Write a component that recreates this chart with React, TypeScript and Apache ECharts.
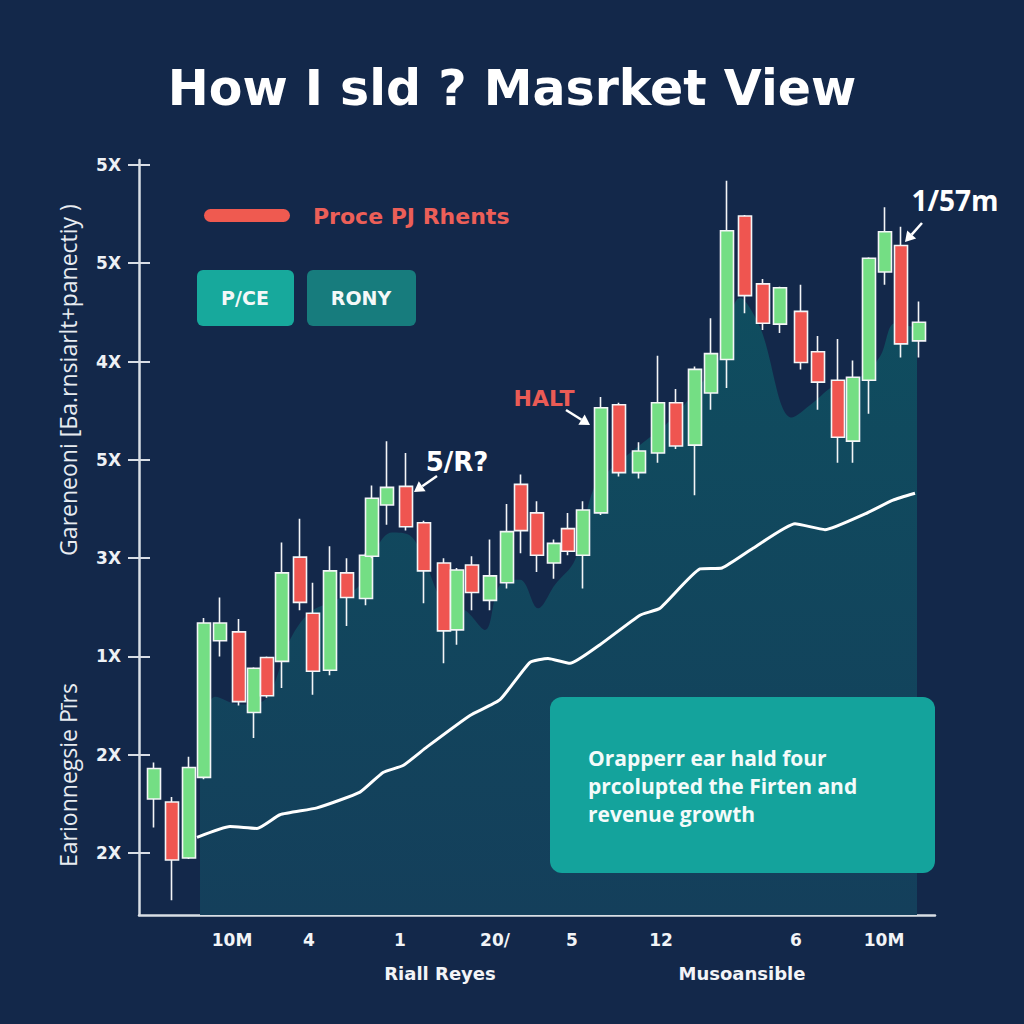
import React, { useEffect, useRef } from "react";
import * as echarts from "echarts";

const titleText = "How I sld ? Masrket View";
const yTitleTop = "Gareneoni [Ба.rnsiarlt+panectiy )";
const yTitleBottom = "Earionnegsie Pīrs";
const xTitleLeft = "Riall Reyes";
const xTitleRight = "Musoansible";
const legendText = "Proce PJ Rhents";
const buttonLabels = ["P/CE", "RONY"];
const noteLines = ["Orapperr ear hald four", "prcolupted the Firten and", "revenue growth"];
const annotations = ["HALT", "5/R?", "1/57m"];

const yTickValues = [10, 20, 30, 40, 50, 60, 70, 80];
const yTickLabels = ["2X", "2X", "1X", "3X", "5X", "4X", "5X", "5X"];
const xTickValues = [9.3, 17.0, 26.1, 35.6, 43.3, 52.2, 57.1, 65.7, 74.5];
const xLabelValues = [9.3, 17.0, 26.1, 35.6, 43.3, 52.2, 65.7, 74.5];
const xLabelTexts = ["10M", "4", "1", "20/", "5", "12", "6", "10M"];

// candle sessions (x) and [open, close, low, high]
const candleX = [
  1.5, 3.3, 5.0, 6.5, 8.1, 10.0, 11.5, 12.8, 14.3, 16.1, 17.4, 19.1, 20.8, 22.7, 23.3,
  24.8, 26.7, 28.5, 30.5, 31.8, 33.3, 35.1, 36.8, 38.2, 39.8, 41.5, 42.9, 44.4, 46.2,
  48.0, 50.0, 51.9, 53.7, 55.6, 57.2, 58.8, 60.6, 62.4, 64.1, 66.2, 67.9, 69.9, 71.4,
  73.0, 74.6, 76.2, 78.0,
];
const candleOHLC = [
  [15.5, 18.6, 12.6, 19.2],
  [15.2, 9.3, 5.2, 15.7],
  [9.5, 18.7, 9.4, 19.8],
  [17.7, 33.4, 17.5, 33.9],
  [31.6, 33.4, 30.0, 36.0],
  [32.5, 25.4, 25.0, 33.8],
  [24.3, 28.8, 21.7, 28.9],
  [29.9, 26.0, 25.8, 30.0],
  [29.5, 38.5, 26.8, 41.6],
  [40.1, 35.5, 34.7, 44.0],
  [34.4, 28.5, 26.1, 37.5],
  [28.6, 38.7, 28.1, 41.2],
  [38.5, 36.0, 33.1, 40.0],
  [35.9, 40.3, 35.2, 40.5],
  [40.2, 46.1, 40.0, 47.4],
  [45.4, 47.2, 43.4, 51.9],
  [47.3, 43.2, 42.8, 50.7],
  [43.6, 38.7, 35.4, 43.8],
  [39.5, 32.6, 29.3, 40.0],
  [32.7, 38.8, 31.2, 39.0],
  [39.3, 36.5, 34.7, 40.2],
  [35.7, 38.2, 34.7, 41.9],
  [37.5, 42.7, 36.9, 45.5],
  [47.5, 42.8, 40.5, 48.5],
  [44.6, 40.3, 38.6, 45.8],
  [39.5, 41.5, 37.9, 41.9],
  [43.0, 40.7, 40.3, 44.6],
  [40.3, 44.9, 36.9, 45.8],
  [44.6, 55.3, 44.4, 56.4],
  [55.6, 48.7, 48.3, 55.8],
  [48.7, 50.9, 48.1, 51.8],
  [50.7, 55.8, 49.7, 60.6],
  [55.8, 51.4, 51.1, 57.2],
  [51.5, 59.2, 46.4, 59.5],
  [56.8, 60.8, 55.1, 64.4],
  [60.2, 73.3, 57.3, 78.4],
  [74.8, 66.7, 64.9, 74.9],
  [67.9, 63.9, 63.2, 68.4],
  [63.8, 67.5, 62.9, 67.6],
  [65.1, 59.9, 59.2, 67.8],
  [61.0, 57.9, 55.1, 62.6],
  [58.1, 52.3, 49.7, 62.3],
  [51.9, 58.4, 49.7, 60.1],
  [58.1, 70.5, 54.7, 70.6],
  [69.1, 73.2, 67.8, 75.7],
  [71.8, 61.8, 60.4, 73.7],
  [62.1, 64.0, 60.4, 66.1],
];

// shaded volume-like area
const areaX = [6.1, 7.6, 10.1, 12.6, 15.1, 17.1, 19.6, 22.1, 23.9, 25.3, 27.1, 28.6, 30.6, 32.6, 34.6, 36.1, 38.1, 39.9, 41.6, 43.6, 45.4, 47.1, 50.1, 53.1, 56.1, 58.1, 60.1, 62.1, 65.3, 67.4, 69.6, 72.1, 74.1, 75.6, 77.8];
const areaY = [22.5, 25.9, 25.1, 25.6, 31.7, 34.5, 35.7, 37.3, 41.3, 42.6, 42.3, 39.6, 35.2, 34.7, 32.7, 37.3, 37.8, 34.9, 37.3, 39.8, 46.9, 49.0, 51.5, 54.0, 57.6, 60.7, 66.5, 63.5, 54.3, 55.8, 57.6, 58.4, 60.5, 63.9, 63.4];

// white trend line
const lineX = [5.8, 9.1, 11.8, 14.1, 17.8, 22.1, 24.4, 26.4, 28.8, 33.1, 36.1, 39.1, 40.9, 43.1, 46.1, 50.1, 52.1, 56.1, 58.3, 61.4, 65.6, 68.6, 72.6, 75.4, 77.6];
const lineY = [11.6, 12.7, 12.5, 13.9, 14.6, 16.2, 18.2, 18.9, 20.8, 24.0, 25.6, 29.4, 29.8, 29.3, 31.2, 34.2, 34.9, 38.9, 39.0, 41.0, 43.5, 42.9, 44.5, 45.9, 46.6];

const FONT = "'Open Sans', 'Noto Sans', sans-serif";
const WIDE = "'DejaVu Sans', 'Open Sans', sans-serif";

function arrow(x1: number, y1: number, x2: number, y2: number) {
  const dx = x2 - x1;
  const dy = y2 - y1;
  const len = Math.sqrt(dx * dx + dy * dy);
  const ux = dx / len;
  const uy = dy / len;
  const hl = 10;
  const hw = 6;
  const bx = x2 - ux * hl;
  const by = y2 - uy * hl;
  return [
    { type: "line", shape: { x1, y1, x2: bx, y2: by }, style: { stroke: "#ffffff", lineWidth: 2.5 }, z: 20 },
    {
      type: "polygon",
      shape: { points: [[x2, y2], [bx - uy * hw, by + ux * hw], [bx + uy * hw, by - ux * hw]] },
      style: { fill: "#ffffff" },
      z: 20,
    },
  ];
}

export default function App() {
  const ref = useRef<HTMLDivElement>(null);
  useEffect(() => {
    if (!ref.current) return;
    const chart = echarts.init(ref.current, undefined, { renderer: "svg" });
    const candles = candleX.map((x, i) => [x, ...candleOHLC[i]]);
    const area = areaX.map((x, i) => [x, areaY[i]]);
    const line = lineX.map((x, i) => [x, lineY[i]]);

    const yLabel = (v: number) => {
      const i = yTickValues.findIndex((t) => Math.abs(t - v) < 0.01);
      return i >= 0 ? yTickLabels[i] : "";
    };
    const xLabel = (v: number) => {
      const i = xLabelValues.findIndex((t) => Math.abs(t - v) < 0.01);
      return i >= 0 ? xLabelTexts[i] : "";
    };

    const option: any = {
      animation: false,
      backgroundColor: "#13284a",
      grid: { left: 139, right: 89, top: 160, bottom: 109, containLabel: false },
      xAxis: {
        type: "value",
        min: 0,
        max: 79.6,
        axisLine: { show: true, lineStyle: { color: "#d9dee5", width: 2.5 } },
        axisTick: { show: true, inside: true, length: 19, customValues: xTickValues, lineStyle: { color: "#d9dee5", width: 2 } },
        axisLabel: {
          show: true,
          customValues: xLabelValues,
          formatter: xLabel,
          color: "#f2f4f7",
          fontSize: 17,
          fontWeight: "bold",
          fontFamily: WIDE,
          margin: 16,
        },
        splitLine: { show: false },
      },
      yAxis: [
        {
          type: "value",
          min: 3.7,
          max: 80.5,
          axisLine: { show: true, lineStyle: { color: "#d9dee5", width: 2.5 } },
          axisTick: { show: true, length: 11, customValues: yTickValues, lineStyle: { color: "#d9dee5", width: 2 } },
          axisLabel: {
            show: true,
            customValues: yTickValues,
            formatter: yLabel,
            color: "#eef1f5",
            fontSize: 17,
            fontWeight: "bold",
            fontFamily: WIDE,
            margin: 18,
          },
          splitLine: { show: false },
        },
        {
          type: "value",
          min: 3.7,
          max: 80.5,
          position: "left",
          axisLine: { show: false },
          axisTick: { show: true, inside: true, length: 11, customValues: yTickValues, lineStyle: { color: "#d9dee5", width: 2 } },
          axisLabel: { show: false },
          splitLine: { show: false },
        },
      ],
      series: [
        {
          type: "line",
          name: "area",
          data: area,
          smooth: 0.35,
          symbol: "none",
          lineStyle: { width: 0 },
          areaStyle: {
            origin: "start",
            opacity: 1,
            color: new echarts.graphic.LinearGradient(0, 0, 0, 1, [
              { offset: 0, color: "#0f4d5f" },
              { offset: 1, color: "#143f5b" },
            ]),
          },
          z: 1,
        },
        {
          type: "line",
          name: "trend",
          data: line,
          smooth: 0.15,
          symbol: "none",
          lineStyle: { color: "#ffffff", width: 3 },
          z: 3,
        },
        {
          type: "candlestick",
          name: "price",
          data: candles,
          barWidth: 13,
          itemStyle: {
            color: "#74de84",
            color0: "#ef5550",
            borderColor: "#f3f5f7",
            borderColor0: "#f3f5f7",
            borderWidth: 1.6,
          },
          z: 5,
        },
      ],
      graphic: [
        {
          type: "text",
          x: 512,
          y: 88,
          style: { text: titleText, fill: "#ffffff", font: `bold 49px ${WIDE}`, align: "center", verticalAlign: "middle" },
        },
        {
          type: "text",
          x: 68,
          y: 380,
          rotation: Math.PI / 2,
          style: { text: yTitleTop, fill: "#e8ecf1", font: `23px ${FONT}`, align: "center", verticalAlign: "middle" },
        },
        {
          type: "text",
          x: 68,
          y: 775,
          rotation: Math.PI / 2,
          style: { text: yTitleBottom, fill: "#e8ecf1", font: `23px ${FONT}`, align: "center", verticalAlign: "middle" },
        },
        {
          type: "text",
          x: 440,
          y: 973,
          style: { text: xTitleLeft, fill: "#f2f4f7", font: `bold 18px ${WIDE}`, align: "center", verticalAlign: "middle" },
        },
        {
          type: "text",
          x: 742,
          y: 973,
          style: { text: xTitleRight, fill: "#f2f4f7", font: `bold 18px ${WIDE}`, align: "center", verticalAlign: "middle" },
        },
        {
          type: "rect",
          shape: { x: 204, y: 209, width: 86, height: 13, r: 6.5 },
          style: { fill: "#ef5a50" },
        },
        {
          type: "text",
          x: 313,
          y: 216,
          style: { text: legendText, fill: "#ec5f58", font: `bold 22px ${WIDE}`, align: "left", verticalAlign: "middle" },
        },
        {
          type: "rect",
          shape: { x: 197, y: 270, width: 97, height: 56, r: 6 },
          style: { fill: "#17a99c" },
        },
        {
          type: "text",
          x: 245,
          y: 298,
          style: { text: buttonLabels[0], fill: "#f4f8f8", font: `bold 19px ${WIDE}`, align: "center", verticalAlign: "middle" },
        },
        {
          type: "rect",
          shape: { x: 307, y: 270, width: 109, height: 56, r: 6 },
          style: { fill: "#177c7d" },
        },
        {
          type: "text",
          x: 361,
          y: 298,
          style: { text: buttonLabels[1], fill: "#f4f8f8", font: `bold 19px ${WIDE}`, align: "center", verticalAlign: "middle" },
        },
        {
          type: "text",
          x: 544,
          y: 398,
          z: 20,
          style: { text: annotations[0], fill: "#ea5b55", font: `bold 22px ${WIDE}`, align: "center", verticalAlign: "middle" },
        },
        ...arrow(566, 410, 590, 425),
        {
          type: "text",
          x: 457,
          y: 462,
          z: 20,
          style: { text: annotations[1], fill: "#ffffff", font: `bold 26px ${WIDE}`, align: "center", verticalAlign: "middle" },
        },
        ...arrow(437, 476, 414, 492),
        {
          type: "text",
          x: 955,
          y: 200,
          z: 20,
          style: { text: annotations[2], fill: "#ffffff", font: `bold 28px ${FONT}`, align: "center", verticalAlign: "middle" },
        },
        ...arrow(922, 223, 905, 242),
        {
          type: "rect",
          z: 15,
          shape: { x: 550, y: 697, width: 385, height: 176, r: 12 },
          style: { fill: "#14a39c" },
        },
        {
          type: "text",
          z: 16,
          x: 588,
          y: 744,
          style: {
            text: noteLines.join("\n"),
            fill: "#f4fbfa",
            font: `bold 21px ${FONT}`,
            lineHeight: 28,
            align: "left",
            verticalAlign: "top",
          },
        },
      ],
    };
    chart.setOption(option);
    return () => chart.dispose();
  }, []);
  return <div ref={ref} style={{ position: "fixed", left: 0, top: 0, width: 1024, height: 1024 }} />;
}
